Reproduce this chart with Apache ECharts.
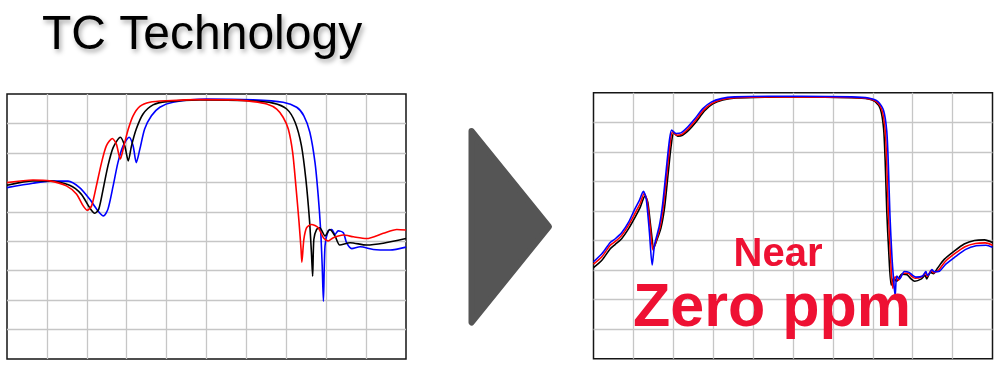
<!DOCTYPE html>
<html>
<head>
<meta charset="utf-8">
<script src="https://cdn.jsdelivr.net/npm/echarts@6/dist/echarts.min.js"></script>
<style>
html,body{margin:0;padding:0;background:#fff;}
#c{width:1000px;height:369px;}
</style>
</head>
<body>
<div id="c"></div>
<script>
// ---- text ----
const titleText = "TC Technology";
const noteLine1 = "Near";
const noteLine2 = "Zero ppm";

// ---- axis ranges (grid units) ----
const xMax = 10;
const yMax = 9;

// ---- left chart (before) : [x, y] ----
const leftRed = [[0,5.99],[0.65,6.08],[1.07,6.05],[1.49,5.88],[1.74,5.60],[1.91,5.20],[2.01,5.05],[2.12,5.20],[2.24,5.88],[2.37,6.67],[2.49,7.24],[2.64,7.49],[2.74,7.30],[2.84,6.79],[2.93,7.24],[3.04,7.81],[3.16,8.26],[3.33,8.58],[3.58,8.72],[4.0,8.77],[4.83,8.81],[5.67,8.80],[6.17,8.74],[6.51,8.66],[6.76,8.49],[6.92,8.21],[7.05,7.81],[7.16,7.01],[7.24,5.88],[7.32,4.63],[7.37,3.72],[7.39,3.29],[7.44,4.06],[7.51,4.46],[7.63,4.57],[7.80,4.46],[7.93,4.12],[8.05,4.01],[8.18,4.12],[8.43,4.21],[8.68,4.15],[9.01,4.09],[9.43,4.27],[9.77,4.40],[10,4.38]];
const leftBlack = [[0,5.90],[0.65,6.05],[1.07,6.05],[1.57,5.90],[1.86,5.60],[2.07,5.14],[2.20,4.95],[2.30,5.09],[2.41,5.77],[2.53,6.56],[2.66,7.18],[2.84,7.53],[2.95,7.24],[3.04,6.73],[3.12,7.24],[3.24,7.81],[3.41,8.32],[3.66,8.63],[4.0,8.74],[4.83,8.80],[6.09,8.77],[6.67,8.69],[7.01,8.49],[7.22,8.04],[7.38,7.24],[7.49,6.11],[7.58,4.74],[7.63,3.61],[7.66,2.81],[7.69,4.06],[7.76,4.40],[7.84,4.46],[7.97,4.18],[8.09,4.40],[8.22,4.18],[8.34,3.87],[8.60,3.95],[9.01,3.87],[9.43,3.93],[10,4.09]];
const leftBlue = [[0,5.82],[0.65,5.97],[1.07,6.04],[1.53,6.04],[1.82,5.82],[2.07,5.43],[2.28,5.03],[2.42,4.86],[2.53,5.09],[2.66,5.88],[2.78,6.67],[2.91,7.24],[3.06,7.53],[3.16,7.24],[3.24,6.67],[3.33,7.13],[3.45,7.81],[3.62,8.26],[3.83,8.55],[4.16,8.72],[5.0,8.83],[6.17,8.80],[6.92,8.72],[7.26,8.55],[7.44,8.26],[7.59,7.70],[7.72,6.67],[7.80,5.54],[7.86,4.40],[7.90,3.16],[7.93,1.96],[7.97,3.84],[8.05,4.35],[8.14,4.40],[8.22,4.23],[8.30,4.35],[8.43,4.29],[8.51,3.95],[8.64,3.75],[8.85,3.81],[9.18,3.72],[9.60,3.70],[10,3.80]];

// ---- right chart (after) : [x, y] ----
const rightRed = [[0,3.20],[0.21,3.45],[0.42,3.84],[0.54,3.96],[0.71,4.18],[0.88,4.52],[1.04,4.92],[1.17,5.25],[1.27,5.59],[1.34,5.37],[1.42,4.46],[1.49,3.68],[1.55,3.90],[1.67,4.46],[1.75,5.14],[1.84,6.27],[1.92,7.28],[1.98,7.68],[2.09,7.56],[2.21,7.59],[2.38,7.79],[2.55,8.05],[2.76,8.41],[2.97,8.64],[3.22,8.77],[3.55,8.83],[4.39,8.86],[5.22,8.86],[6.47,8.84],[6.89,8.80],[7.10,8.69],[7.23,8.41],[7.31,7.73],[7.35,6.61],[7.39,4.92],[7.44,3.56],[7.50,2.38],[7.56,2.77],[7.64,2.66],[7.77,2.89],[7.89,2.89],[7.98,2.78],[8.06,2.72],[8.23,2.77],[8.32,2.90],[8.36,2.78],[8.40,2.86],[8.46,2.98],[8.52,2.91],[8.65,3.00],[8.81,3.28],[9.06,3.56],[9.31,3.79],[9.57,3.90],[9.82,3.92],[10,3.84]];
const rightBlack = [[0,3.08],[0.21,3.33],[0.42,3.72],[0.54,3.86],[0.71,4.07],[0.88,4.40],[1.04,4.78],[1.17,5.12],[1.29,5.50],[1.36,5.30],[1.44,4.40],[1.51,3.75],[1.57,3.95],[1.69,4.42],[1.78,5.10],[1.87,6.25],[1.95,7.25],[2.01,7.64],[2.11,7.53],[2.23,7.56],[2.40,7.75],[2.57,8.01],[2.78,8.38],[2.99,8.62],[3.24,8.75],[3.57,8.82],[4.39,8.85],[5.22,8.86],[6.47,8.83],[6.89,8.79],[7.06,8.70],[7.19,8.45],[7.27,7.80],[7.31,6.70],[7.35,5.00],[7.40,3.60],[7.46,2.49],[7.52,2.72],[7.60,2.62],[7.73,2.86],[7.86,2.84],[7.96,2.70],[8.05,2.62],[8.22,2.70],[8.31,2.82],[8.35,2.70],[8.39,2.80],[8.45,2.92],[8.52,2.88],[8.62,3.06],[8.79,3.36],[9.04,3.64],[9.29,3.88],[9.55,4.00],[9.80,4.02],[10,3.93]];
const rightBlue = [[0,3.28],[0.21,3.55],[0.42,3.93],[0.54,4.05],[0.71,4.27],[0.88,4.62],[1.02,5.02],[1.15,5.36],[1.25,5.66],[1.32,5.42],[1.40,4.30],[1.47,3.17],[1.53,3.85],[1.65,4.50],[1.73,5.20],[1.82,6.35],[1.90,7.36],[1.96,7.74],[2.07,7.62],[2.19,7.64],[2.36,7.84],[2.53,8.10],[2.74,8.46],[2.95,8.68],[3.20,8.80],[3.53,8.86],[4.39,8.88],[5.22,8.88],[6.47,8.86],[6.89,8.82],[7.13,8.70],[7.27,8.40],[7.35,7.70],[7.39,6.55],[7.43,4.85],[7.48,3.45],[7.52,2.70],[7.56,2.12],[7.60,2.80],[7.67,2.70],[7.79,2.95],[7.91,2.92],[8.00,2.82],[8.08,2.76],[8.25,2.80],[8.33,2.95],[8.37,2.82],[8.42,2.88],[8.48,3.02],[8.54,2.94],[8.67,2.96],[8.83,3.20],[9.08,3.46],[9.33,3.70],[9.59,3.82],[9.84,3.84],[10,3.77]];

// ---- build chart ----
const chart = echarts.init(document.getElementById('c'), null, {renderer: 'canvas'});

function gridCfg(left, top, width, height) {
  return {left, top, width, height, show: true, backgroundColor: '#fff',
    borderColor: '#151515', borderWidth: 1.5, containLabel: false};
}
function axisCfg(idx, max) {
  return {type: 'value', gridIndex: idx, min: 0, max: max, interval: 1,
    axisLine: {show: false}, axisTick: {show: false}, axisLabel: {show: false},
    splitLine: {show: true, showMinLine: false, showMaxLine: false,
      lineStyle: {color: '#c6c6c6', width: 1.3}}};
}
function lineSeries(data, color, idx, z) {
  return {type: 'line', xAxisIndex: idx, yAxisIndex: idx, data: data,
    showSymbol: false, symbol: 'none', smooth: 0.25, z: z,
    lineStyle: {color: color, width: 1.6}, animation: false, silent: true};
}

const option = {
  animation: false,
  backgroundColor: '#fff',
  grid: [gridCfg(7, 94, 399, 265), gridCfg(593.5, 92.7, 399, 266)],
  xAxis: [axisCfg(0, xMax), axisCfg(1, xMax)],
  yAxis: [axisCfg(0, yMax), axisCfg(1, yMax)],
  series: [
    lineSeries(leftBlue, '#0000ff', 0, 2),
    lineSeries(leftBlack, '#000000', 0, 3),
    lineSeries(leftRed, '#ff0000', 0, 4),
    lineSeries(rightBlack, '#000000', 1, 2),
    lineSeries(rightRed, '#ff0000', 1, 3),
    lineSeries(rightBlue, '#0000ff', 1, 4)
  ],
  graphic: [
    {type: 'text', left: 42, top: 12, z: 10,
      style: {text: titleText, font: '48px "Liberation Sans", Arial, sans-serif', fill: '#000',
        textShadowColor: 'rgba(0,0,0,0.35)', textShadowBlur: 5, textShadowOffsetX: 2, textShadowOffsetY: 3}},
    {type: 'polygon', z: 10,
      shape: {points: [[471.5, 131], [549, 226.7], [471.5, 322.5]]},
      style: {fill: '#555555', stroke: '#555555', lineWidth: 6, lineJoin: 'round'}},
    {type: 'text', z: 10, x: 778, y: 254.5,
      style: {text: noteLine1, font: 'bold 40px "Liberation Sans", Arial, sans-serif', fill: '#ee1133',
        align: 'center', verticalAlign: 'middle'}},
    {type: 'text', z: 10, x: 772, y: 309,
      style: {text: noteLine2, font: 'bold 61px "Liberation Sans", Arial, sans-serif', fill: '#ee1133',
        align: 'center', verticalAlign: 'middle'}}
  ]
};
chart.setOption(option);
</script>
</body>
</html>
